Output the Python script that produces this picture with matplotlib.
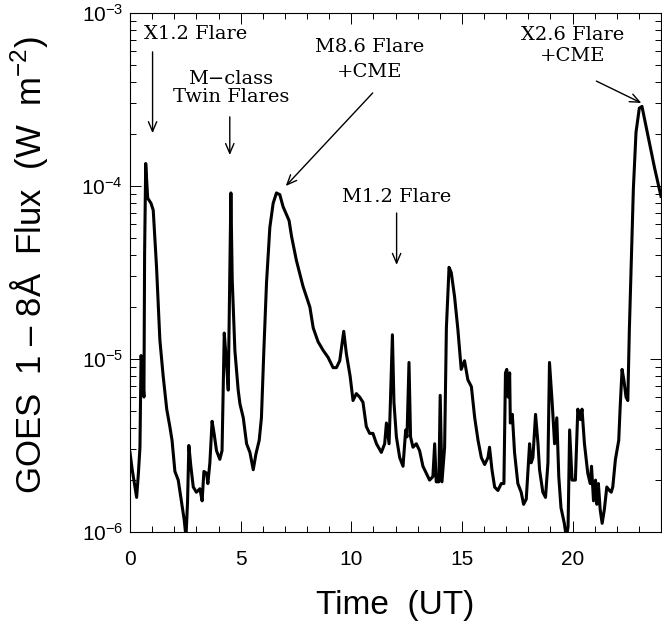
import numpy as np
import matplotlib
matplotlib.use('Agg')
import matplotlib.pyplot as plt
from matplotlib.ticker import FixedLocator, LogLocator, NullFormatter

plt.rcParams['font.family'] = 'Liberation Sans'
plt.rcParams['mathtext.fontset'] = 'custom'
plt.rcParams['mathtext.rm'] = 'Liberation Sans'
plt.rcParams['mathtext.it'] = 'Liberation Sans'

# GOES 1-8 A light curve (hours UT, log10 flux in W m^-2)
hours = [
    0.00, 0.10, 0.20, 0.30, 0.38, 0.45, 0.50, 0.55, 0.63, 0.66, 0.71, 0.80, 0.95, 1.05,
    1.20, 1.35, 1.50, 1.66, 1.80, 1.90, 2.03, 2.18, 2.33, 2.45, 2.53, 2.60, 2.66, 2.75,
    2.86, 3.00, 3.16, 3.26, 3.34, 3.46, 3.52, 3.61, 3.71, 3.80, 3.91, 4.06, 4.16, 4.26,
    4.36, 4.44, 4.51, 4.56, 4.62, 4.74, 4.89, 4.97, 5.12, 5.27, 5.42, 5.57, 5.69, 5.84,
    5.94, 6.05, 6.17, 6.32, 6.47, 6.62, 6.77, 6.92, 7.19, 7.30, 7.52, 7.82, 8.13, 8.28,
    8.50, 8.73, 8.95, 9.18, 9.33, 9.48, 9.66, 9.78, 9.95, 10.08, 10.23, 10.38, 10.53,
    10.68, 10.83, 10.98, 11.14, 11.36, 11.51, 11.59, 11.71, 11.76, 11.86, 11.93, 12.04,
    12.19, 12.34, 12.46, 12.52, 12.61, 12.68, 12.79, 12.94, 13.09, 13.24, 13.39, 13.54,
    13.69, 13.77, 13.84, 13.96, 14.02, 14.10, 14.22, 14.30, 14.42, 14.52, 14.67, 14.82,
    14.97, 15.12, 15.27, 15.43, 15.58, 15.73, 15.88, 16.03, 16.18, 16.25, 16.36, 16.48,
    16.63, 16.78, 16.90, 16.97, 17.03, 17.09, 17.16, 17.19, 17.28, 17.38, 17.53, 17.68,
    17.79, 17.91, 17.98, 18.06, 18.13, 18.21, 18.33, 18.44, 18.51, 18.66, 18.78, 18.89,
    18.96, 19.08, 19.19, 19.29, 19.38, 19.48, 19.63, 19.72, 19.80, 19.87, 19.98, 20.13,
    20.24, 20.35, 20.43, 20.54, 20.69, 20.80, 20.86, 20.95, 21.04, 21.10, 21.17, 21.25,
    21.34, 21.44, 21.55, 21.67, 21.75, 21.82, 21.94, 22.09, 22.15, 22.24, 22.32, 22.42,
    22.50, 22.57, 22.65, 22.75, 22.87, 23.02, 23.14, 23.30, 23.48, 23.70, 23.93, 24.00,
]
log_flux = [
    -5.54, -5.64, -5.72, -5.80, -5.66, -5.51, -4.98, -5.05, -5.22, -4.39, -3.87, -4.07, -4.10, -4.14,
    -4.47, -4.89, -5.10, -5.29, -5.39, -5.47, -5.65, -5.70, -5.83, -5.93, -6.03, -5.83, -5.50, -5.62,
    -5.74, -5.77, -5.75, -5.82, -5.65, -5.66, -5.72, -5.60, -5.36, -5.43, -5.53, -5.58, -5.53, -4.85,
    -5.02, -5.18, -4.53, -4.04, -4.54, -4.95, -5.18, -5.26, -5.34, -5.49, -5.54, -5.64, -5.55, -5.47,
    -5.34, -4.95, -4.56, -4.24, -4.10, -4.04, -4.05, -4.12, -4.20, -4.29, -4.43, -4.58, -4.70, -4.82,
    -4.90, -4.95, -4.99, -5.05, -5.05, -5.01, -4.84, -4.97, -5.10, -5.24, -5.20, -5.22, -5.25,
    -5.39, -5.43, -5.43, -5.49, -5.54, -5.49, -5.37, -5.49, -5.29, -4.86, -5.25, -5.45,
    -5.57, -5.62, -5.41, -5.45, -5.02, -5.45, -5.51, -5.49, -5.53, -5.62, -5.66, -5.70,
    -5.68, -5.49, -5.71, -5.71, -5.21, -5.71, -5.51, -4.82, -4.47, -4.50, -4.64, -4.83,
    -5.06, -5.01, -5.12, -5.16, -5.34, -5.47, -5.57, -5.61, -5.57, -5.51, -5.64, -5.74,
    -5.76, -5.72, -5.72, -5.08, -5.06, -5.22, -5.08, -5.37, -5.32, -5.54, -5.72, -5.77,
    -5.84, -5.81, -5.66, -5.49, -5.60, -5.57, -5.32, -5.49, -5.64, -5.77, -5.80, -5.60,
    -5.02, -5.25, -5.49, -5.34, -5.68, -5.86, -5.95, -6.03, -5.97, -5.41, -5.70, -5.70,
    -5.29, -5.35, -5.29, -5.49, -5.66, -5.72, -5.62, -5.82, -5.70, -5.84, -5.72, -5.87,
    -5.95, -5.87, -5.74, -5.76, -5.77, -5.74, -5.58, -5.47, -5.29, -5.06, -5.12, -5.22,
    -5.24, -4.83, -4.47, -4.02, -3.69, -3.55, -3.54, -3.64, -3.75, -3.89, -4.02, -4.06,
]

# event labels: text, arrow tip (hour, flux), arrow tail, text centre
labels = ['X1.2 Flare', 'M\u2212class\nTwin Flares', 'M8.6 Flare\n+CME', 'M1.2 Flare', 'X2.6 Flare\n+CME']
tips = [(1.02, 2.02e-4), (4.51, 1.51e-4), (7.04, 1.0e-4), (12.05, 3.5e-5), (23.11, 3.02e-4)]
tails = [(1.02, 5.96e-4), (4.51, 2.51e-4), (10.97, 3.45e-4), (12.05, 6.98e-5), (21.08, 4.04e-4)]
text_pos = [(2.95, 7.57e-4), (4.56, 3.70e-4), (10.84, 5.35e-4), (12.05, 8.63e-5), (20.0, 6.49e-4)]
spacing = [1.2, 1.0, 1.5, 1.2, 1.2]

fig = plt.figure(figsize=(6.62, 6.31), dpi=100)
ax = fig.add_axes([130 / 662, 1 - 532 / 631, 531 / 662, 519 / 631])

ax.plot(hours, 10 ** np.array(log_flux), color='black', lw=2.2)
ax.set_yscale('log')
ax.set_xlim(0, 24)
ax.set_ylim(1e-6, 1e-3)

for lab, tip, tail, tp, ls in zip(labels, tips, tails, text_pos, spacing):
    ax.annotate('', xy=tip, xytext=tail,
                arrowprops=dict(arrowstyle='->, head_length=0.7, head_width=0.3',
                                lw=1.0, color='black', shrinkA=0, shrinkB=0))
    ax.text(tp[0], tp[1], lab, family='DejaVu Serif', fontsize=14, ha='center',
            va='center', linespacing=ls)

ax.xaxis.set_major_locator(FixedLocator([0, 5, 10, 15, 20]))
ax.xaxis.set_minor_locator(FixedLocator(np.arange(0, 25, 1)))
ax.yaxis.set_minor_locator(LogLocator(base=10, subs=np.arange(2, 10)))
ax.yaxis.set_minor_formatter(NullFormatter())
ax.set_yticks([1e-6, 1e-5, 1e-4, 1e-3])
ax.set_yticklabels([r'10$^{-6}$', r'10$^{-5}$', r'10$^{-4}$', r'10$^{-3}$'])

ax.tick_params(which='both', direction='in', top=True, right=True, width=0.7, labelsize=15)
ax.tick_params(which='major', length=8)
ax.tick_params(which='minor', length=4.5)
ax.tick_params(axis='x', pad=13)
ax.tick_params(axis='y', pad=5)
for s in ax.spines.values():
    s.set_linewidth(0.8)

ax.set_xlabel('Time  (UT)', fontsize=24, va='center')
ax.xaxis.set_label_coords(0.5, -0.141)
ax.set_ylabel('GOES  1 \u2013 8\u00c5  Flux  (W  m$^{-2}$)', fontsize=25,
              va='center', rotation_mode='anchor')
ax.yaxis.set_label_coords(-0.19, 0.514)

plt.savefig('out.png', dpi=100)
